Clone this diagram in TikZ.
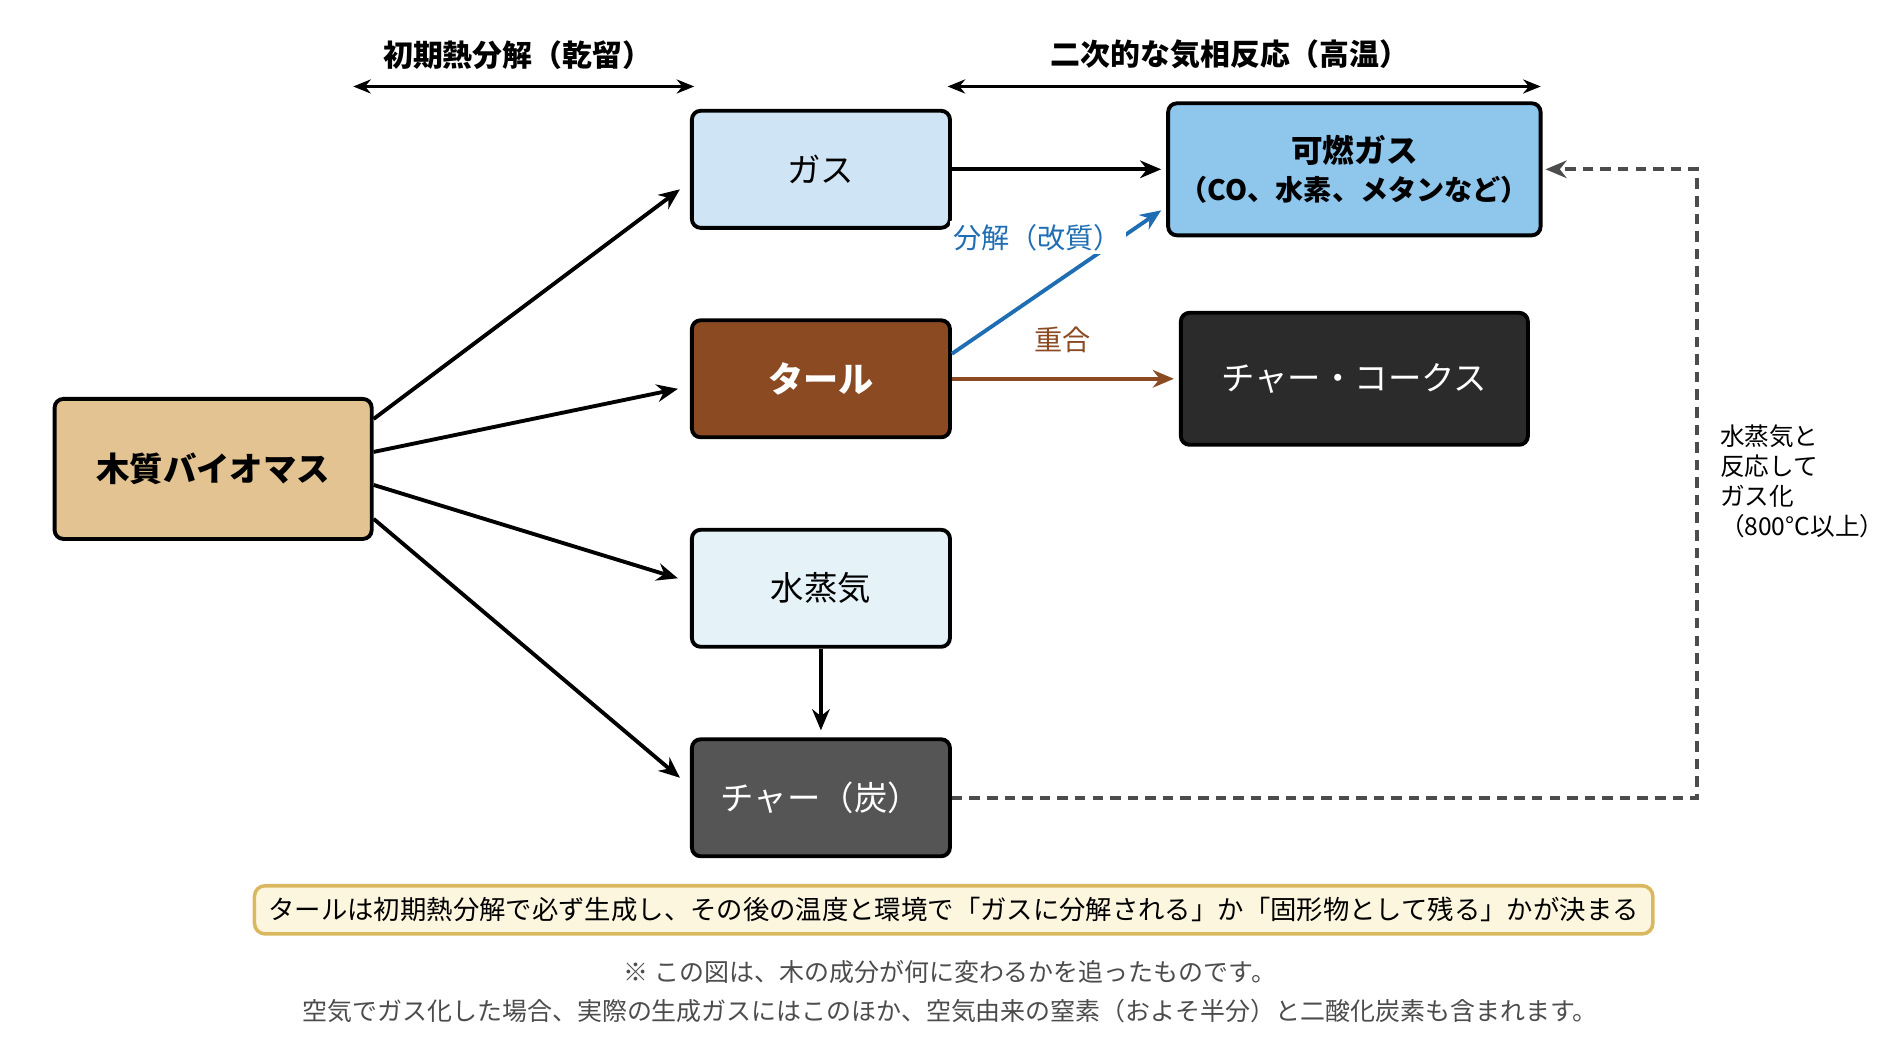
\documentclass[tikz,border=0pt]{standalone}
\usepackage{fontspec}
\setmainfont{Noto Sans CJK JP}
\usetikzlibrary{arrows.meta,positioning}
\definecolor{biomass}{HTML}{E2C391}
\definecolor{gasfill}{HTML}{CFE5F5}
\definecolor{tarfill}{HTML}{8B4A22}
\definecolor{steamfill}{HTML}{E5F3F9}
\definecolor{charfill}{HTML}{555555}
\definecolor{fuelfill}{HTML}{8EC6EC}
\definecolor{cokefill}{HTML}{2B2B2B}
\definecolor{crackblue}{HTML}{1F6EB4}
\definecolor{notefill}{HTML}{FDF6DF}
\definecolor{noteline}{HTML}{D9B860}
\tikzset{
  box/.style={draw=black, line width=1.1pt, rounded corners=2.5pt, minimum width=2.58cm, minimum height=1.17cm, font=\fontsize{9.5}{11}\selectfont, align=center},
  bigbox/.style={box, minimum width=3.47cm, minimum height=1.32cm},
  flow/.style={-{Stealth[length=6pt,width=5pt]}, line width=1.1pt},
  span/.style={{Stealth[length=5pt,width=4pt]}-{Stealth[length=5pt,width=4pt]}, line width=0.9pt}
}
\begin{document}
\begin{tikzpicture}[x=0.01218cm, y=-0.01218cm]
  \useasboundingbox (0,0) rectangle (1560,853);
  % phases
  \coordinate (p1a) at (290,71);
  \coordinate (p1b) at (570,71);
  \coordinate (p2a) at (778,71);
  \coordinate (p2b) at (1265,71);
  \draw[span] (p1a) -- (p1b);
  \draw[span] (p2a) -- (p2b);
  \node[font=\bfseries\fontsize{8.5}{10}\selectfont] (ph1) at (425,45) {初期熱分解（乾留）};
  \node[font=\bfseries\fontsize{8.5}{10}\selectfont] (ph2) at (1010,45) {二次的な気相反応（高温）};
  % boxes
  \node[box, fill=biomass, minimum width=3.17cm, minimum height=1.40cm, font=\bfseries\fontsize{9.5}{12}\selectfont] (bio) at (175,385) {木質バイオマス};
  \node[box, fill=gasfill] (gas) at (674,139) {ガス};
  \node[box, fill=tarfill, text=white, font=\bfseries\fontsize{10}{12}\selectfont] (tar) at (674,311) {タール};
  \node[box, fill=steamfill] (steam) at (674,483) {水蒸気};
  \node[box, fill=charfill, text=white] (char) at (674,655) {チャー（炭）};
  \node[bigbox, fill=fuelfill, font=\bfseries\fontsize{8}{11}\selectfont] (fuel) at (1112,139) {\fontsize{9}{11}\selectfont 可燃ガス\\（CO、水素、メタンなど）};
  \node[bigbox, fill=cokefill, text=white] (coke) at (1112,311) {チャー・コークス};
  % primary pyrolysis
  \draw[flow] ([yshift=-0.22cm]bio.north east) -- ([xshift=-0.1cm,yshift=-0.2cm]gas.west);
  \draw[flow] ([yshift=0.17cm]bio.east) -- ([xshift=-0.12cm,yshift=-0.1cm]tar.west);
  \draw[flow] ([yshift=-0.16cm]bio.east) -- ([xshift=-0.12cm,yshift=0.1cm]steam.west);
  \draw[flow] ([yshift=0.22cm]bio.south east) -- ([xshift=-0.1cm,yshift=0.2cm]char.west);
  \draw[flow] (steam.south) -- ([yshift=0.07cm]char.north);
  % secondary reactions
  \draw[flow] (gas.east) -- ([xshift=-0.05cm]fuel.west);
  \draw[flow, crackblue] ([yshift=0.25cm]tar.east) -- ([xshift=-0.05cm,yshift=-0.41cm]fuel.west);
  \node[fill=white, inner sep=1pt, text=crackblue, font=\fontsize{8}{10}\selectfont] (crack) at (852,195) {分解（改質）};
  \draw[flow, tarfill] (tar.east) -- ([xshift=-0.05cm]coke.west)
    node[midway, above=0.12cm, font=\fontsize{8}{10}\selectfont] (poly) {重合};
  % gasification of char
  \coordinate (turn1) at (1393,655);
  \coordinate (turn2) at (1393,139);
  \draw[flow, densely dashed, draw=black!70, line width=1.2pt] (char.east) -- (turn1) -- (turn2) -- ([xshift=0.03cm]fuel.east);
  \node[anchor=west, align=left, font=\fontsize{7}{8.5}\selectfont] (gasif) at (1402,395) {水蒸気と\\反応して\\ガス化\\（800°C以上）};
  % notes
  \node[draw=noteline, fill=notefill, line width=1pt, rounded corners=3pt, minimum width=13.98cm, minimum height=0.46cm, font=\fontsize{7.5}{9}\selectfont] (note) at (783,747) {タールは初期熱分解で必ず生成し、その後の温度と環境で「ガスに分解される」か「固形物として残る」かが決まる};
  \node[text=black!70, font=\fontsize{7.1}{9}\selectfont] (foot1) at (780,798) {※ この図は、木の成分が何に変わるかを追ったものです。};
  \node[text=black!70, font=\fontsize{7.1}{9}\selectfont] (foot2) at (780,830) {空気でガス化した場合、実際の生成ガスにはこのほか、空気由来の窒素（およそ半分）と二酸化炭素も含まれます。};
\end{tikzpicture}
\end{document}
